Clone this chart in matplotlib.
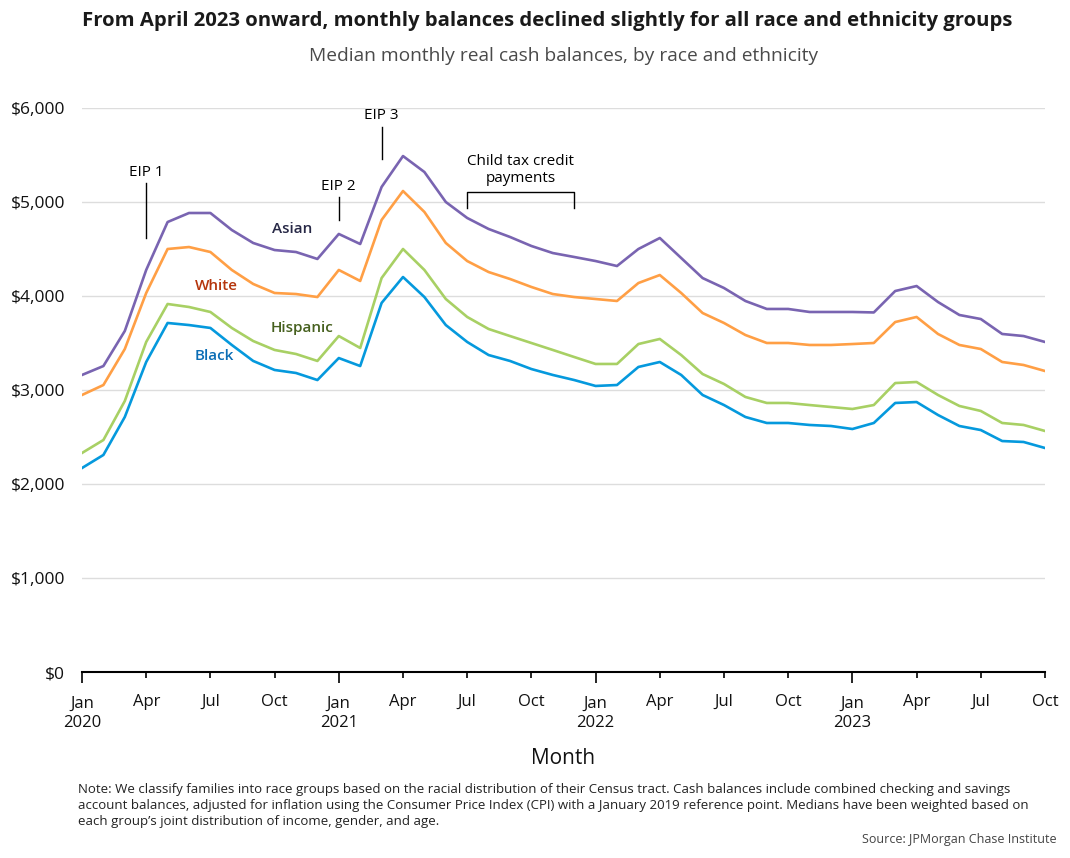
import numpy as np
import matplotlib
matplotlib.use('Agg')
import matplotlib.pyplot as plt
from matplotlib.ticker import FuncFormatter, FixedLocator

plt.rcParams['font.family'] = ['Open Sans', 'DejaVu Sans']

# Monthly median real cash balances, Jan 2020 - Oct 2023
months = np.arange(46)
asian = [3160, 3255, 3628, 4277, 4787, 4883, 4883, 4702, 4564, 4489, 4468, 4394,
         4660, 4553, 5160, 5489, 5319, 5000, 4830, 4713, 4628, 4532, 4457, 4415,
         4372, 4319, 4500, 4617, 4404, 4191, 4085, 3947, 3862, 3862, 3830, 3830,
         3830, 3825, 4053, 4106, 3936, 3798, 3755, 3596, 3574, 3511]
white = [2947, 3053, 3436, 4032, 4500, 4521, 4468, 4277, 4128, 4032, 4021, 3989,
         4277, 4160, 4809, 5117, 4894, 4564, 4372, 4255, 4181, 4096, 4021, 3989,
         3968, 3947, 4138, 4223, 4032, 3819, 3713, 3585, 3500, 3500, 3479, 3479,
         3489, 3500, 3723, 3777, 3596, 3479, 3436, 3298, 3266, 3202]
hispanic = [2330, 2468, 2883, 3511, 3915, 3883, 3830, 3660, 3521, 3426, 3383, 3309,
            3574, 3447, 4191, 4500, 4277, 3968, 3777, 3649, 3574, 3500, 3426, 3351,
            3277, 3277, 3489, 3543, 3372, 3170, 3064, 2926, 2862, 2862, 2840, 2819,
            2798, 2840, 3074, 3085, 2947, 2830, 2777, 2649, 2628, 2564]
black = [2170, 2309, 2713, 3298, 3713, 3691, 3660, 3479, 3309, 3213, 3181, 3106,
         3340, 3255, 3926, 4202, 3989, 3691, 3511, 3372, 3309, 3223, 3160, 3106,
         3043, 3053, 3245, 3298, 3160, 2947, 2840, 2713, 2649, 2649, 2628, 2617,
         2585, 2649, 2862, 2872, 2734, 2617, 2574, 2457, 2447, 2383]

groups = ['Asian', 'White', 'Hispanic', 'Black']
line_colors = ['#7964B1', '#FF9F45', '#A8D064', '#0599DD']
label_colors = ['#272846', '#B5350C', '#46601E', '#0B6DB5']
# label positions (month index, value)
label_x = [9.8, 6.3, 10.3, 6.2]
label_y = [4713, 4106, 3660, 3362]

major_ticks = [0, 12, 24, 36]
major_labels = ['Jan\n2020', 'Jan\n2021', 'Jan\n2022', 'Jan\n2023']
minor_ticks = [3, 6, 9, 15, 18, 21, 27, 30, 33, 39, 42, 45]
minor_labels = ['Apr', 'Jul', 'Oct'] * 4

fig = plt.figure(figsize=(10.7, 8.58), dpi=100)
ax = fig.add_axes([82 / 1070, 1 - 672 / 858, 963 / 1070, 564 / 858])
renderer = fig.canvas.get_renderer()


def fit(t, target_px):
    # scale a text so its width matches the reference width in pixels
    w = t.get_window_extent(renderer).width
    t.set_fontsize(t.get_fontsize() * target_px / w)
    return t.get_fontsize()


for vals, c in zip([asian, white, hispanic, black], line_colors):
    ax.plot(months, vals, color=c, linewidth=1.9, zorder=3)

for name, x, y, c in zip(groups, label_x, label_y, label_colors):
    ax.text(x, y, name, color=c, fontsize=11, fontweight='semibold',
            ha='center', va='center')

ax.set_xlim(0, 45)
ax.set_ylim(0, 6000)
ax.set_yticks(np.arange(0, 6001, 1000))
ax.yaxis.set_major_formatter(FuncFormatter(lambda v, p: f'${v:,.0f}'))
ax.grid(axis='y', color='#dddddd', linewidth=1)
ax.set_axisbelow(True)
ax.tick_params(axis='y', length=0, labelsize=12.5, pad=12, labelcolor='#111111')

ax.xaxis.set_major_locator(FixedLocator(major_ticks))
ax.xaxis.set_minor_locator(FixedLocator(minor_ticks))
ax.set_xticklabels(major_labels)
ax.set_xticklabels(minor_labels, minor=True)
ax.tick_params(axis='x', which='major', length=8, width=1.2, labelsize=12, pad=9,
               labelcolor='#111111')
ax.tick_params(axis='x', which='minor', length=4.5, width=1.2, labelsize=12, pad=11,
               labelcolor='#111111')
for lab in ax.get_xticklabels():
    lab.set_linespacing(1.25)
for s in ['top', 'right', 'left']:
    ax.spines[s].set_visible(False)
ax.spines['bottom'].set_linewidth(1.5)
ax.spines['bottom'].set_zorder(4)

fig.text(563.5 / 1070, 1 - 758 / 858, 'Month', ha='center', va='center',
         fontsize=15, color='#111111')

# Annotations
ann_kw = dict(color='black', linewidth=1, clip_on=False)
ax.plot([3, 3], [4617, 5202], **ann_kw)
ax.text(3, 5319, 'EIP 1', ha='center', va='center', fontsize=11)
ax.plot([12, 12], [4809, 5053], **ann_kw)
ax.text(12, 5170, 'EIP 2', ha='center', va='center', fontsize=11)
ax.plot([14, 14], [5457, 5798], **ann_kw)
ax.text(14, 5915, 'EIP 3', ha='center', va='center', fontsize=11)
ax.plot([18, 18, 23, 23], [4936, 5106, 5106, 4936], **ann_kw)
ax.text(20.5, 5340, 'Child tax credit\npayments', ha='center', va='center',
        fontsize=11, linespacing=1.15)

title = fig.text(547.5 / 1070, 1 - 21 / 858,
                 'From April 2023 onward, monthly balances declined slightly for all race and ethnicity groups',
                 ha='center', va='center', fontsize=15, fontweight='bold', color='#1a1a1a')
fit(title, 931)
sub = fig.text(563.5 / 1070, 1 - 56 / 858, 'Median monthly real cash balances, by race and ethnicity',
               ha='center', va='center', fontsize=14, color='#4a4a4a')
fit(sub, 513)

note_lines = ['Note: We classify families into race groups based on the racial distribution of their Census tract. Cash balances include combined checking and savings',
              'account balances, adjusted for inflation using the Consumer Price Index (CPI) with a January 2019 reference point. Medians have been weighted based on',
              "each group\u2019s joint distribution of income, gender, and age."]
note_y = [789, 806, 822]
first = fig.text(78 / 1070, 1 - note_y[0] / 858, note_lines[0], ha='left', va='center',
                 fontsize=10.5, color='#222222')
size = fit(first, 934)
for line, y in zip(note_lines[1:], note_y[1:]):
    fig.text(78 / 1070, 1 - y / 858, line, ha='left', va='center', fontsize=size,
             color='#222222')
fig.text(1057 / 1070, 1 - 840 / 858, 'Source: JPMorgan Chase Institute', ha='right',
         va='center', fontsize=9, color='#444444')

fig.savefig('out.png', dpi=100)
